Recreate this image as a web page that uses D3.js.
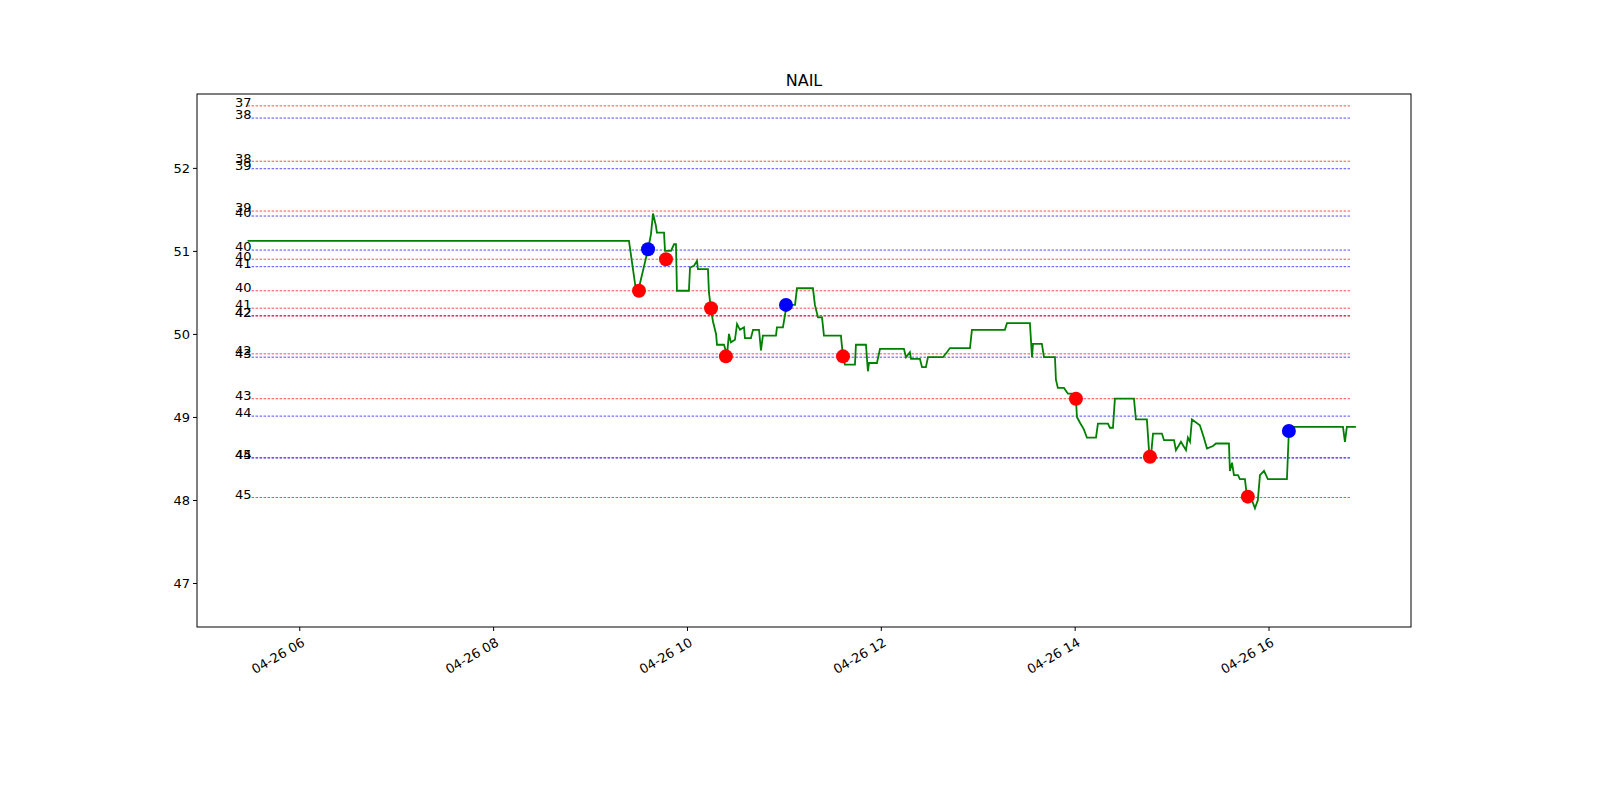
<!DOCTYPE html>
<html><head><meta charset="utf-8">
<script src="https://cdn.jsdelivr.net/npm/d3@7"></script>
<style>body{margin:0;background:#fff;font-family:"DejaVu Sans",sans-serif}</style>
</head><body><svg id="c" width="1600" height="800"></svg>
<script>
// minutes since midnight on 04-26
const priceT=[328,564.1,569.0,575.9,577.7,579.0,580.8,581.4,585.8,586.4,590.1,592.0,593.2,593.8,601.2,601.9,604.3,606.2,606.8,613.0,613.6,614.9,616.1,618.0,618.6,622.9,624.8,626.0,627.2,629.7,631.0,632.8,635.3,635.9,639.6,640.9,644.6,645.8,647.0,655.1,655.7,659.4,661.3,663.8,666.9,668.1,678.0,679.2,681.1,683.6,684.8,695.3,696.6,697.8,704.0,704.6,710.8,712.0,712.7,717.6,719.5,734.3,735.6,738.0,738.7,744.2,745.5,747.9,749.2,758.5,760.9,762.8,775.2,776.4,796.8,798.1,812.3,813.6,814.2,819.7,821.0,827.8,828.4,829.6,833.4,835.8,838.3,840.8,841.4,843.3,845.7,847.6,853.2,854.4,860.6,861.8,863.7,864.9,876.7,877.9,884.7,886.0,887.2,888.5,894.0,895.3,901.5,902.7,905.8,908.9,910.1,911.4,912.6,917.5,920.0,921.9,925.6,927.5,935.5,936.1,937.4,938.6,941.1,942.3,945.4,946.6,949.7,951.6,953.4,954.7,957.2,959.6,971.4,972.6,973.4,1006.1,1007.3,1008.5,1014.1];
const priceV=[51.12,51.12,50.45,51.02,51.2,51.45,51.3,51.22,51.22,51.0,51.0,51.08,51.08,50.52,50.52,50.8,50.82,50.88,50.78,50.78,50.5,50.3,50.15,50.0,49.87,49.87,49.75,50.0,49.9,49.93,50.12,50.05,50.08,49.95,49.95,50.05,50.05,49.8,49.98,49.98,50.08,50.08,50.3,50.35,50.35,50.55,50.55,50.35,50.2,50.2,49.98,49.98,49.72,49.63,49.63,49.87,49.87,49.55,49.65,49.65,49.82,49.82,49.72,49.78,49.7,49.7,49.6,49.6,49.72,49.72,49.78,49.83,49.83,50.05,50.05,50.13,50.13,49.72,49.88,49.88,49.72,49.72,49.45,49.35,49.35,49.28,49.28,49.22,49.0,48.93,48.85,48.75,48.75,48.92,48.92,48.87,48.87,49.22,49.22,48.97,48.97,48.6,48.52,48.8,48.8,48.72,48.72,48.6,48.7,48.6,48.75,48.7,48.97,48.9,48.75,48.62,48.65,48.68,48.68,48.35,48.45,48.3,48.3,48.25,48.25,48.05,48.0,47.9,48.0,48.3,48.35,48.25,48.25,48.83,48.88,48.88,48.7,48.88,48.88];
const dotT=[570.3,575.9,587.0,614.9,624.1,661.3,696.6,840.8,886.6,947.2,972.6];
const dotV=[50.52,51.02,50.90,50.31,49.73,50.35,49.73,49.22,48.52,48.04,48.83];
const dotC=["red","blue","red","red","red","blue","red","red","red","red","blue"];
const levelV=[52.747,52.60,52.08,51.99,51.48,51.42,51.01,50.90,50.81,50.52,50.31,50.22,50.215,49.76,49.72,49.22,49.01,48.51,48.505,48.03];
const levelC=["red","blue","red","blue","red","blue","blue","red","blue","red","red","blue","red","red","blue","red","blue","red","blue","red"];
const levelL=["37","38","38","39","39","40","40","40","41","40","41","42","42","42","43","43","44","44","45","45"];
const levelStart=328, levelEnd=1010.4;
const yTicks=[47,48,49,50,51,52];
const xTicksH=[6,8,10,12,14,16];

const base=new Date(2023,3,26,0,0);
const toD=m=>new Date(base.getTime()+m*60000);
const L=197,R=1411,T=94,B=627;
const x=d3.scaleTime().domain([toD(296.7),toD(1048.2)]).range([L,R]);
const y=d3.scaleLinear().domain([46.47,52.89]).range([B,T]);
const svg=d3.select("#c");
svg.append("text").attr("x",(L+R)/2).attr("y",86).attr("text-anchor","middle").attr("font-size",16).text("NAIL");

levelV.forEach((v,i)=>{
  svg.append("line").attr("x1",x(toD(levelStart))).attr("x2",x(toD(levelEnd))).attr("y1",y(v)).attr("y2",y(v))
   .attr("stroke",levelC[i]).attr("stroke-width",0.7).attr("stroke-dasharray","2.5,1.5");
  svg.append("text").attr("x",x(toD(levelStart))+4).attr("y",y(v)).attr("dy","0.1em").attr("text-anchor","end")
   .attr("font-size",13).text(levelL[i]);
});

const line=d3.line().x((d,i)=>x(toD(priceT[i]))).y((d,i)=>y(priceV[i]));
svg.append("path").attr("d",line(priceV)).attr("fill","none").attr("stroke","green").attr("stroke-width",1.8);
dotV.forEach((v,i)=>svg.append("circle").attr("cx",x(toD(dotT[i]))).attr("cy",y(v)).attr("r",7).attr("fill",dotC[i]));

svg.append("rect").attr("x",L).attr("y",T).attr("width",R-L).attr("height",B-T).attr("fill","none").attr("stroke","#000").attr("stroke-width",1);
const ya=svg.append("g").attr("transform",`translate(${L},0)`).call(d3.axisLeft(y).tickValues(yTicks).tickFormat(d3.format("d")).tickSize(4).tickSizeOuter(0));
ya.select(".domain").remove(); ya.selectAll("text").attr("font-size",13).attr("font-family","DejaVu Sans").attr("fill","#000");
const xa=svg.append("g").attr("transform",`translate(0,${B})`).call(d3.axisBottom(x).tickValues(xTicksH.map(h=>toD(h*60))).tickFormat(d=>"04-26 "+d3.timeFormat("%H")(d)).tickSize(4).tickSizeOuter(0));
xa.select(".domain").remove();
xa.selectAll("text").attr("font-size",13).attr("font-family","DejaVu Sans").attr("fill","#000")
  .attr("text-anchor","end").attr("transform","rotate(-30)").attr("dx","-0.3em").attr("dy","0.9em");
</script></body></html>
